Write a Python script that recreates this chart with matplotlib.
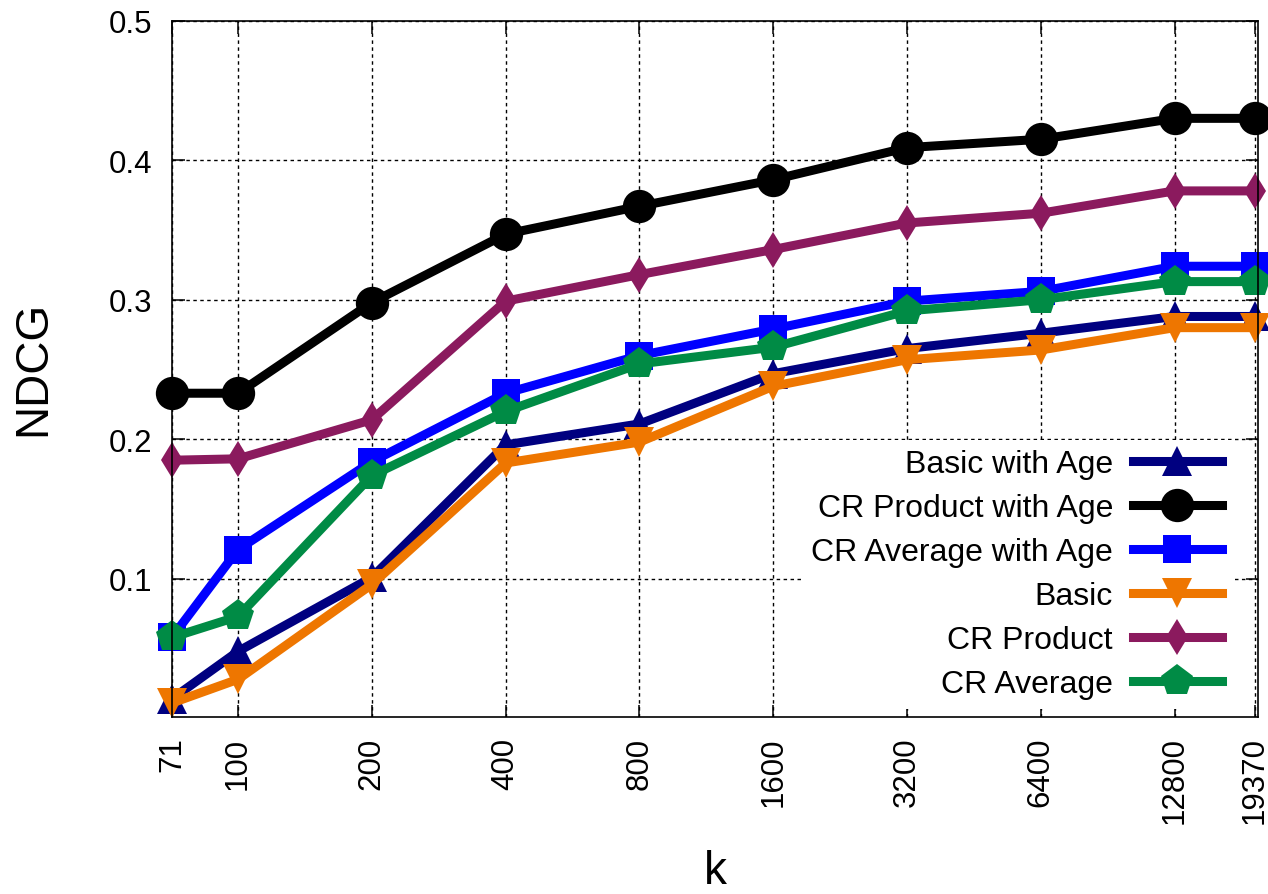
import matplotlib
matplotlib.use("Agg")
import matplotlib.pyplot as plt
from matplotlib.ticker import FixedLocator, NullLocator

plt.rcParams['font.family'] = ['Liberation Sans', 'DejaVu Sans']

k_values = [71, 100, 200, 400, 800, 1600, 3200, 6400, 12800, 19370]
k_labels = ["71", "100", "200", "400", "800", "1600", "3200", "6400", "12800", "19370"]

basic_with_age = [0.014, 0.048, 0.101, 0.196, 0.211, 0.247, 0.265, 0.276, 0.288, 0.288]
cr_product_with_age = [0.233, 0.233, 0.298, 0.347, 0.367, 0.386, 0.409, 0.415, 0.430, 0.430]
cr_average_with_age = [0.058, 0.121, 0.184, 0.233, 0.260, 0.279, 0.299, 0.306, 0.324, 0.324]
basic = [0.011, 0.028, 0.096, 0.183, 0.198, 0.238, 0.257, 0.264, 0.280, 0.280]
cr_product = [0.185, 0.186, 0.214, 0.299, 0.318, 0.336, 0.355, 0.362, 0.378, 0.378]
cr_average = [0.058, 0.073, 0.174, 0.220, 0.254, 0.266, 0.292, 0.300, 0.313, 0.313]

y_ticks = [0.1, 0.2, 0.3, 0.4, 0.5]
y_labels = ["0.1", "0.2", "0.3", "0.4", "0.5"]

series = [
    ("Basic with Age", basic_with_age, "#000080", "^", 22),
    ("CR Product with Age", cr_product_with_age, "#000000", "o", 24),
    ("CR Average with Age", cr_average_with_age, "#0000ff", "s", 20),
    ("Basic", basic, "#ee7600", "v", 22),
    ("CR Product", cr_product, "#8b1a5e", "d", 18),
    ("CR Average", cr_average, "#008b45", "p", 24),
]

fig = plt.figure(figsize=(12.68, 8.95), dpi=100)
ax = fig.add_axes([0.1356, 0.1978, 0.992 - 0.1356, 0.9758 - 0.1978])

for label, vals, color, marker, ms in series:
    ax.plot(k_values, vals, color=color, lw=6.5, marker=marker, ms=ms,
            markeredgewidth=0, label=label, clip_on=False, zorder=3)

ax.set_xscale('log')
ax.set_xlim(71, 19700)
ax.set_ylim(0.001, 0.5)
ax.xaxis.set_major_locator(FixedLocator(k_values))
ax.xaxis.set_minor_locator(NullLocator())
ax.set_xticklabels(k_labels, rotation=90)
ax.set_yticks(y_ticks)
ax.set_yticklabels(y_labels)

ax.tick_params(axis='both', which='both', direction='in', length=9, width=1.1,
               top=True, right=True, labelsize=22.5, pad=14, colors='black')
for sp in ax.spines.values():
    sp.set_linewidth(1.2)
    sp.set_zorder(5)

ax.grid(True, which='major', color='black', lw=1.0, linestyle=(0, (2.5, 2.5)))
ax.set_axisbelow(True)

fig.text(715 / 1268, 1 - 884 / 895, "k", fontsize=33, ha='center', va='baseline')
fig.text(33.5 / 1268, 0.588, "NDCG", fontsize=33, rotation=90, ha='center', va='center')

leg = ax.legend(loc='lower right', bbox_to_anchor=(0.976, 0.0115), markerfirst=False,
                fontsize=23, frameon=True, fancybox=False, framealpha=1,
                handlelength=2.8, handletextpad=0.62, labelspacing=0.44,
                borderpad=0.3, borderaxespad=0.0, numpoints=1)
leg.get_frame().set_edgecolor('none')
leg.get_frame().set_facecolor('white')
leg.set_zorder(4)

fig.savefig("out.png", dpi=100)
